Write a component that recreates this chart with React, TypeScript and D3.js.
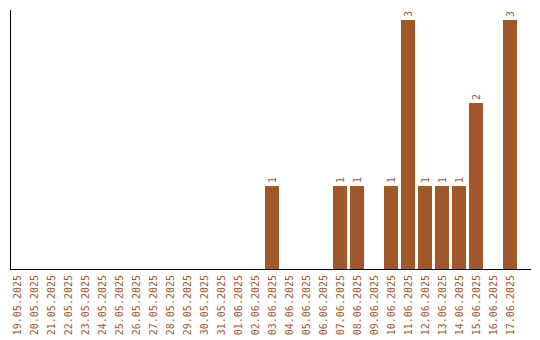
import React from "react";
import * as d3 from "d3";

const dates = [
  "19.05.2025","20.05.2025","21.05.2025","22.05.2025","23.05.2025","24.05.2025",
  "25.05.2025","26.05.2025","27.05.2025","28.05.2025","29.05.2025","30.05.2025",
  "31.05.2025","01.06.2025","02.06.2025","03.06.2025","04.06.2025","05.06.2025",
  "06.06.2025","07.06.2025","08.06.2025","09.06.2025","10.06.2025","11.06.2025",
  "12.06.2025","13.06.2025","14.06.2025","15.06.2025","16.06.2025","17.06.2025",
];
const counts = [
  0,0,0,0,0,0,
  0,0,0,0,0,0,
  0,0,0,1,0,0,
  0,1,1,0,1,3,
  1,1,1,2,0,3,
];

const COLOR = "#a0582a";
const FONT = "'DejaVu Sans Mono', monospace";

export default function App() {
  const x = d3.scaleBand<string>().domain(dates).range([7, 520]).paddingInner(3 / 17).paddingOuter(3 / 17);
  const y = d3.scaleLinear().domain([0, 3]).range([269, 20]);
  return (
    <svg width={540} height={340} style={{ position: "absolute", left: 0, top: 0 }}>
      {dates.map((d, i) => {
        const v = counts[i];
        const bx = x(d)!;
        const cx = bx + x.bandwidth() / 2;
        return (
          <g key={d}>
            {v > 0 && (
              <>
                <rect x={bx} y={y(v)} width={x.bandwidth()} height={y(0) - y(v)} fill={COLOR} />
                <text
                  transform={`translate(${cx + 3.5},${y(v) - 3}) rotate(-90)`}
                  fontFamily={FONT}
                  fontSize={10}
                  fill={COLOR}
                >
                  {v}
                </text>
              </>
            )}
            <text
              transform={`translate(${cx + 3.5},275) rotate(-90)`}
              textAnchor="end"
              fontFamily={FONT}
              fontSize={10}
              fill={COLOR}
            >
              {d}
            </text>
          </g>
        );
      })}
      <line x1={10.5} y1={10} x2={10.5} y2={270} stroke="#000" strokeWidth={1} />
      <line x1={10} y1={269.5} x2={531} y2={269.5} stroke="#000" strokeWidth={1} />
    </svg>
  );
}
